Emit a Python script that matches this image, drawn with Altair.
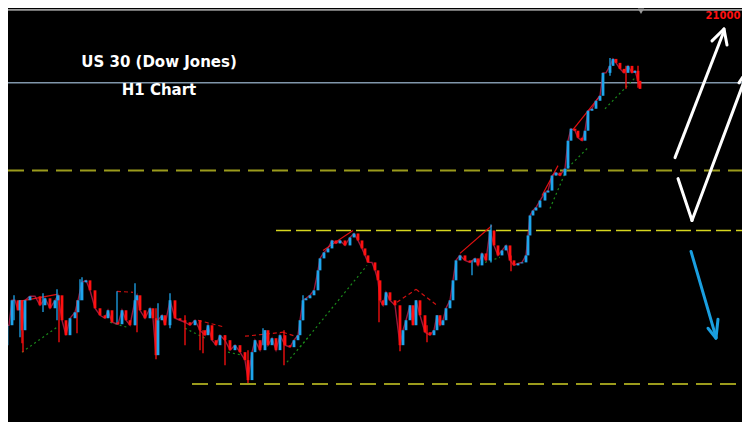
import altair as alt
import pandas as pd

# ---- price path (hour index, close price) ----
hours = [0, 3, 5, 7, 9, 12, 15, 18, 20, 22, 25, 30, 35, 40, 45, 50, 55, 58, 62, 66,
         70, 75, 78, 82, 86, 90, 95, 100, 105, 108, 112, 118, 122, 126, 130, 135, 137, 140, 145, 150,
         153, 156, 158, 162, 165, 170, 175, 180, 185, 190, 195, 200, 205, 208, 212, 216, 220, 225, 230, 235,
         240, 245, 248, 252, 255, 260, 265, 268, 272, 276, 280, 285, 290, 294, 298, 300, 303, 306, 310, 314,
         318, 320, 324, 328, 332, 336, 340, 345, 350, 354, 358, 362, 365, 368, 372, 375, 378, 380, 383, 386,
         390, 395, 400, 403, 406, 410, 413, 416, 420, 425, 430, 434, 437, 440, 443, 446, 450, 453, 456, 460,
         465, 470, 475, 478, 482, 486, 490, 494, 498, 502, 506, 510, 514, 518, 522, 526, 528, 530, 533, 536,
         540, 545, 548, 552, 556, 560, 565, 568, 571, 575, 578, 582, 585, 588, 592, 596, 600, 603, 606, 610,
         613, 616, 620, 624, 628, 632, 635, 638, 640]
close = [20055, 19995, 20010, 20070, 20070, 20145, 20145, 20115, 20145, 20055, 20145, 20157, 20157, 20130, 20151, 20121, 20145, 20160, 20085, 20040,
         20091, 20109, 20145, 20199, 20205, 20175, 20121, 20100, 20091, 20115, 20079, 20073, 20115, 20085, 20070, 20145, 20160, 20115, 20091, 20121,
         20091, 19980, 20085, 20100, 20070, 20145, 20091, 20085, 20079, 20070, 20085, 20055, 20040, 20070, 20025, 20010, 20040, 20025, 19995, 20010,
         19989, 19965, 19905, 19989, 20025, 19995, 20055, 20010, 20031, 19995, 20040, 20010, 20004, 20025, 20040, 20085, 20145, 20151, 20160, 20175,
         20235, 20271, 20289, 20301, 20325, 20316, 20325, 20310, 20334, 20346, 20325, 20301, 20280, 20259, 20259, 20235, 20205, 20145, 20130, 20169,
         20145, 20130, 20010, 20055, 20085, 20130, 20070, 20145, 20100, 20049, 20040, 20055, 20100, 20070, 20085, 20121, 20145, 20205, 20265, 20280,
         20265, 20259, 20271, 20250, 20286, 20265, 20355, 20310, 20280, 20295, 20310, 20265, 20250, 20256, 20259, 20280, 20340, 20400, 20415, 20424,
         20445, 20469, 20475, 20520, 20529, 20520, 20541, 20625, 20661, 20655, 20634, 20625, 20655, 20715, 20721, 20745, 20760, 20829, 20829, 20850,
         20871, 20859, 20841, 20829, 20850, 20829, 20835, 20805, 20781]

# ---- long wicks ----
wick_t = [4, 14, 20, 22, 23, 43, 57, 59, 77, 80, 82, 117, 135, 137, 156, 158, 170, 185, 200, 203,
          225, 248, 263, 284, 303, 379, 400, 427, 472, 491, 511, 610, 626, 638]
wick_low = [19935, 20085, 20034, 20016, 19989, 20110, 20085, 20019, 20046, 20145, 20160, 20073, 20070, 20049, 19968, 20085, 20061, 20010, 19995, 19986,
            19950, 19896, 20010, 19950, 20085, 20079, 19992, 20019, 20220, 20259, 20232, 20820, 20781, 20784]
wick_high = [20055, 20160, 20145, 20145, 20055, 20166, 20178, 20160, 20145, 20208, 20214, 20172, 20196, 20160, 20121, 20136, 20166, 20100, 20085, 20055,
             20040, 19995, 20061, 20055, 20160, 20205, 20100, 20070, 20265, 20373, 20280, 20874, 20850, 20850]
wick_dir = ["down", "up", "up", "down", "down", "up", "up", "down", "down", "up", "up", "up", "up", "down", "down", "up", "up", "down", "down", "down",
            "down", "down", "up", "down", "up", "down", "down", "down", "up", "up", "down", "up", "down", "down"]

# ---- indicator zigzag segments ----
ind_t = [19, 117, 198, 245, 283, 323, 397, 416, 460, 542, 573,
         22, 110, 185, 228, 287, 300, 485, 550, 568, 605]
ind_p = [20142, 20172, 20085, 20037, 20049, 20295, 20139, 20178, 20286, 20460, 20658,
         19989, 20079, 20061, 19989, 19959, 20004, 20259, 20421, 20544, 20721]
ind_t2 = [57, 133, 225, 283, 298, 353, 416, 437, 492, 558, 600,
          57, 127, 205, 242, 310, 367, 500, 567, 588, 635]
ind_p2 = [20163, 20169, 20064, 20049, 20034, 20355, 20178, 20130, 20370, 20550, 20760,
          20064, 20064, 20031, 19980, 20040, 20250, 20274, 20541, 20604, 20814]
ind_kind = ["red", "red-dash", "red-dash", "red-dash", "red-dash", "red", "red-dash", "red-dash", "red", "red", "red",
            "green", "green", "green", "green", "green", "green", "green", "green", "green", "green"]

# ---- horizontal levels ----
lvl_price = [21019, 20799, 20535, 20355, 19893]
lvl_start = [8, 8, 8, 276, 192]
lvl_kind = ["top", "steel", "olive", "yellow", "olive"]

# ---- arrows ----
arr_t = [675, 724, 724, 678, 692, 748, 748, 691, 708, 718]
arr_p = [20574, 20961, 20961, 20511, 20385, 20841, 20841, 20292, 20061, 20088]
arr_t2 = [724, 712, 727, 692, 748, 739, 752, 716, 716, 716]
arr_p2 = [20955, 20925, 20913, 20385, 20835, 20799, 20805, 20034, 20031, 20031]
arr_col = ["white"] * 7 + ["blue"] * 3

# ---- labels ----
lab_text = ["US 30 (Dow Jones)", "H1 Chart"]
lab_t = [159, 159]
lab_p = [20862, 20778]
tgt_text = ["21000"]
tgt_t = [723]
tgt_p = [21000]

BLUE = "#1ea5ec"
RED = "#ff1010"

opens = [close[0]] + close[:-1]
candles = pd.DataFrame({
    "t": hours, "open": opens, "close": close,
    "dir": ["up" if c >= o else "down" for o, c in zip(opens, close)],
})
wicks = pd.DataFrame({"t": wick_t, "low": wick_low, "high": wick_high, "dir": wick_dir})
ind = pd.DataFrame({"t": ind_t, "p": ind_p, "t2": ind_t2, "p2": ind_p2, "kind": ind_kind})
lv = pd.DataFrame({"p": lvl_price, "t": lvl_start, "t2": [742] * len(lvl_price), "kind": lvl_kind})
arr = pd.DataFrame({"t": arr_t, "p": arr_p, "t2": arr_t2, "p2": arr_p2, "col": arr_col})
labs = pd.DataFrame({"text": lab_text, "t": lab_t, "p": lab_p})
tgt = pd.DataFrame({"text": tgt_text, "t": tgt_t, "p": tgt_p})

X = alt.Scale(domain=[8, 742], nice=False, zero=False)
Y = alt.Scale(domain=[19779, 21021], nice=False, zero=False)
NOAX = None
dir_color = alt.Color("dir:N", scale=alt.Scale(domain=["up", "down"], range=[BLUE, RED]), legend=None)


def lvl_layer(kind, color, width, dash=None):
    kw = dict(color=color, strokeWidth=width, clip=True)
    if dash:
        kw["strokeDash"] = dash
    return alt.Chart(lv).transform_filter(alt.datum.kind == kind).mark_rule(**kw).encode(
        x=alt.X("t:Q", scale=X, axis=NOAX), x2="t2:Q", y=alt.Y("p:Q", scale=Y, axis=NOAX))


levels = (lvl_layer("top", "#9a9a9a", 2) + lvl_layer("steel", "#8096aa", 1.5)
          + lvl_layer("olive", "#9b9b1c", 2, [16, 8]) + lvl_layer("yellow", "#d6d61e", 1.5, [15, 5]))

top_tri = alt.Chart(pd.DataFrame({"t": [641], "p": [21014]})).mark_point(
    shape="triangle-down", filled=True, color="#9a9a9a", size=40, opacity=1).encode(
    x=alt.X("t:Q", scale=X, axis=NOAX), y=alt.Y("p:Q", scale=Y, axis=NOAX))


def ind_layer(kind, color, dash=None, width=1.2):
    kw = dict(color=color, strokeWidth=width, clip=True)
    if dash:
        kw["strokeDash"] = dash
    return alt.Chart(ind).transform_filter(alt.datum.kind == kind).mark_rule(**kw).encode(
        x=alt.X("t:Q", scale=X, axis=NOAX), x2="t2:Q",
        y=alt.Y("p:Q", scale=Y, axis=NOAX), y2="p2:Q")


indicators = (ind_layer("red", "#e01010") + ind_layer("red-dash", "#d01010", [4, 3])
              + ind_layer("green", "#1a8a1a", [2, 3]))

wick_layer = alt.Chart(wicks).mark_rule(strokeWidth=1.3, clip=True).encode(
    x=alt.X("t:Q", scale=X, axis=NOAX),
    y=alt.Y("low:Q", scale=Y, axis=NOAX), y2="high:Q", color=dir_color)

candle_layer = alt.Chart(candles).mark_rule(strokeWidth=2.8, clip=True).encode(
    x=alt.X("t:Q", scale=X, axis=NOAX),
    y=alt.Y("open:Q", scale=Y, axis=NOAX), y2="close:Q", color=dir_color)

close_line = alt.Chart(candles).mark_line(strokeWidth=1.4, color="#d02050", opacity=0.75, clip=True).encode(
    x=alt.X("t:Q", scale=X, axis=NOAX), y=alt.Y("close:Q", scale=Y, axis=NOAX))


def arrow_layer(col, color):
    return alt.Chart(arr).transform_filter(alt.datum.col == col).mark_rule(
        strokeWidth=3, strokeCap="round", color=color, clip=True).encode(
        x=alt.X("t:Q", scale=X, axis=NOAX), x2="t2:Q",
        y=alt.Y("p:Q", scale=Y, axis=NOAX), y2="p2:Q")


arrows = arrow_layer("white", "#ffffff") + arrow_layer("blue", "#1a9fe0")

labels = alt.Chart(labs).mark_text(font="DejaVu Sans", fontWeight="bold", fontSize=15,
                                   color="#ffffff", align="center", baseline="middle").encode(
    x=alt.X("t:Q", scale=X, axis=NOAX), y=alt.Y("p:Q", scale=Y, axis=NOAX), text="text:N")

target = alt.Chart(tgt).mark_text(font="DejaVu Sans", fontWeight="bold", fontSize=10,
                                  color="#ff1010", align="center", baseline="middle").encode(
    x=alt.X("t:Q", scale=X, axis=NOAX), y=alt.Y("p:Q", scale=Y, axis=NOAX), text="text:N")

chart = alt.layer(
    levels, top_tri, indicators, close_line, wick_layer, candle_layer, arrows, labels, target
).properties(
    width=734, height=414, background="#000000", padding=0,
    autosize=alt.AutoSizeParams(type="fit", contains="padding"),
).configure_view(stroke=None, fill="#000000")

chart.save("out.html", embed_options={"renderer": "svg", "actions": False})
